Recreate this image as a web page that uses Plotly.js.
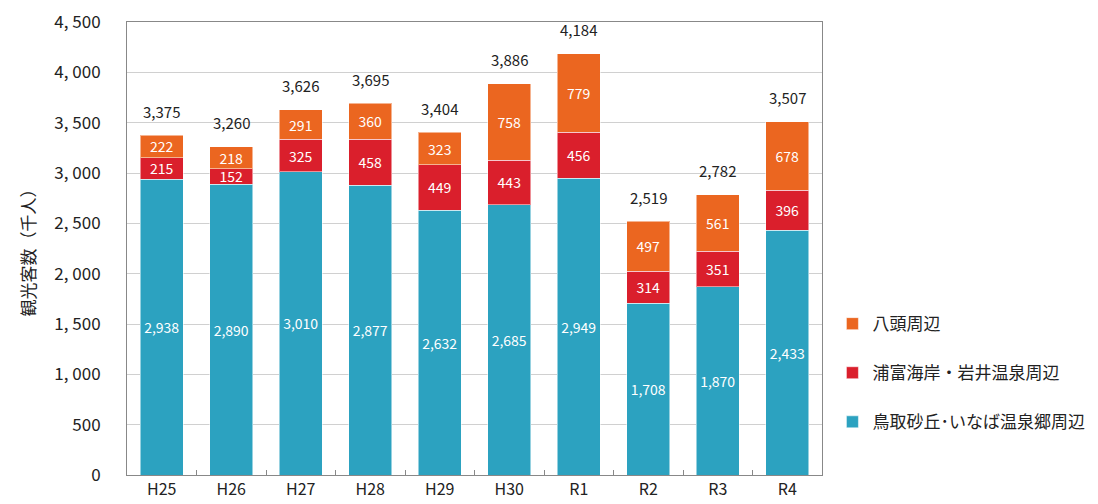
<!DOCTYPE html>
<html><head><meta charset="utf-8">
<script src="https://cdn.plot.ly/plotly-3.0.1.min.js"></script>
<style>body{margin:0;background:#fff}#c{width:1098px;height:504px}</style>
</head><body><div id="c"></div>
<script>
const categories = ["H25","H26","H27","H28","H29","H30","R1","R2","R3","R4"];
const sakyu = [2938,2890,3010,2877,2632,2685,2949,1708,1870,2433];
const uradome = [215,152,325,458,449,443,456,314,351,396];
const hatto = [222,218,291,360,323,758,779,497,561,678];
const totals = [3375,3260,3626,3695,3404,3886,4184,2519,2782,3507];
const seriesNames = ["鳥取砂丘･いなば温泉郷周辺","浦富海岸・岩井温泉周辺","八頭周辺"];
const yTickVals = [0,500,1000,1500,2000,2500,3000,3500,4000,4500];
const yTickText = ["0","500","1, 000","1, 500","2, 000","2, 500","3, 000","3, 500","4, 000","4, 500"];

const FONT = "'Noto Sans CJK JP', 'Noto Sans', sans-serif";
const fmt = v => v.toLocaleString('en-US');
function barTrace(vals, name, color, rank){
  return {type:'bar', x:categories, y:vals, name:name, legendgroup:name, legendrank:rank,
    marker:{color:color, line:{color:'rgba(255,255,255,0.5)', width:1}},
    text:vals.map(fmt), textposition:'inside', insidetextanchor:'middle',
    textfont:{color:'#fff', size:14, family:FONT}, hoverinfo:'none', textangle:0,
    constraintext:'none'};
}
const data = [
  barTrace(sakyu, seriesNames[0], '#2CA2C0', 3),
  barTrace(uradome, seriesNames[1], '#DA1F2C', 2),
  barTrace(hatto, seriesNames[2], '#EB6620', 1)
];
const annotations = categories.map((c,i)=>({x:c, y:totals[i], text:fmt(totals[i]), showarrow:false,
  yanchor:'middle', yshift:24, font:{size:15, family:FONT, color:'#222'}}));
const layout = {
  width:1098, height:504, margin:{l:127, r:276, t:22, b:29, autoexpand:false},
  paper_bgcolor:'#fff', plot_bgcolor:'#fff',
  barmode:'stack', bargap:0.38,
  font:{family:FONT, color:'#222'},
  showlegend:true, annotations:annotations,
  legend:{x:1.015, y:0.225, yanchor:'middle', xanchor:'left', traceorder:'grouped',
    bgcolor:'rgba(0,0,0,0)', tracegroupgap:24, font:{size:17, family:FONT, color:'#222'}, itemwidth:30},
  xaxis:{type:'category', showline:true, linecolor:'#888', linewidth:1, mirror:true,
    ticks:'inside', tickson:'boundaries', ticklen:5, tickcolor:'#888',
    tickfont:{size:16, family:FONT, color:'#222'}, showgrid:false},
  yaxis:{range:[0,4500], tickvals:yTickVals, ticktext:yTickText, showline:true, linecolor:'#888',
    linewidth:1, mirror:true, gridcolor:'#d0d0d0', ticks:'', zeroline:false,
    tickfont:{size:17, family:FONT, color:'#222'}, ticklabelstandoff:22,
    title:{text:'観光客数（千人）', font:{size:17, family:FONT, color:'#222'}, standoff:14}}
};
Plotly.newPlot('c', data, layout, {staticPlot:true});
</script></body></html>
